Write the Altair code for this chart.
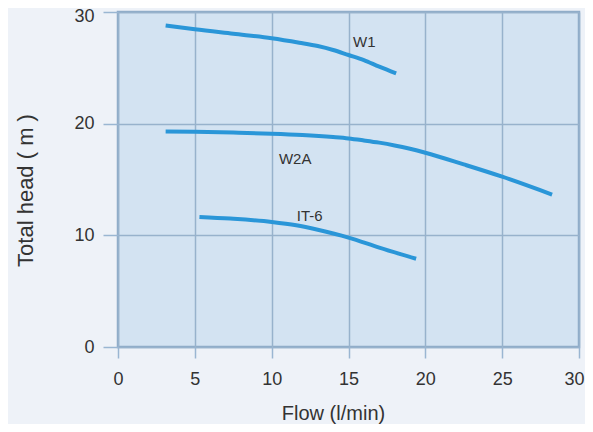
import altair as alt
import pandas as pd

# W1 curve
w1_flow = [3.1, 5, 7.5, 10, 11.8, 13, 14, 15, 16, 17, 18.1]
w1_head = [28.8, 28.45, 28.05, 27.65, 27.25, 26.95, 26.6, 26.15, 25.7, 25.1, 24.5]
# W2A curve
w2a_flow = [3.1, 5, 7.5, 10, 12, 14, 15, 16, 17, 18, 19, 20, 22.5, 25, 28.25]
w2a_head = [19.3, 19.27, 19.2, 19.1, 18.98, 18.8, 18.68, 18.5, 18.3, 18.05, 17.75, 17.4, 16.35, 15.25, 13.65]
# IT-6 curve
it6_flow = [5.3, 7.3, 10, 11.6, 13, 15, 17, 19.4]
it6_head = [11.65, 11.5, 11.2, 10.9, 10.5, 9.8, 8.9, 7.9]

# curve labels
label_text = ["W1", "W2A", "IT-6"]
label_flow = [15.3, 10.47, 11.63]
label_head = [26.86, 16.38, 11.28]

x_ticks = [0, 5, 10, 15, 20, 25, 30]
y_ticks = [0, 10, 20, 30]

rows = []
for name, xs, ys in [("W1", w1_flow, w1_head), ("W2A", w2a_flow, w2a_head), ("IT-6", it6_flow, it6_head)]:
    for i, (a, b) in enumerate(zip(xs, ys)):
        rows.append({"pump": name, "flow": a, "head": b, "order": i})
df = pd.DataFrame(rows)
labels = pd.DataFrame({"text": label_text, "flow": label_flow, "head": label_head})

FONT = "Liberation Sans, Arial, Helvetica, sans-serif"
TXT = "#333333"
TICK = "#9ab6d2"

xenc = alt.X(
    "flow:Q",
    scale=alt.Scale(domain=[0, 30], nice=False, zero=False),
    axis=alt.Axis(
        title="Flow (l/min)",
        values=x_ticks,
        tickSize=11,
        tickColor=TICK,
        tickWidth=1.5,
        labelPadding=12,
        labelFontSize=18,
        labelFlush=False,
        labelOffset={"condition": {"test": "datum.value == 30", "value": -5}, "value": 0},
        labelColor=TXT,
        labelFont=FONT,
        titleFont=FONT,
        titleFontSize=20,
        titleFontWeight="normal",
        titleColor=TXT,
        titleX=215,
        titleY=72,
        titleAlign="center",
        titleBaseline="alphabetic",
        domain=False,
        grid=True,
        gridColor="#97b2cc",
        gridWidth=1.5,
    ),
)
yenc = alt.Y(
    "head:Q",
    scale=alt.Scale(domain=[0, 30], nice=False),
    axis=alt.Axis(
        title="Total head ( m )",
        values=y_ticks,
        tickSize=15,
        tickColor=TICK,
        tickWidth=1.5,
        labelPadding=9,
        labelFontSize=18,
        labelFlush=False,
        labelOffset={"condition": {"test": "datum.value == 30", "value": 4}, "value": 0},
        labelColor=TXT,
        labelFont=FONT,
        titleFont=FONT,
        titleFontSize=22,
        titleFontWeight="normal",
        titleColor=TXT,
        titleAngle=270,
        titleX=-86,
        titleY=178,
        titleAlign="center",
        titleBaseline="alphabetic",
        domain=False,
        grid=True,
        gridColor="#97b2cc",
        gridWidth=1.5,
    ),
)

lines = alt.Chart(df).mark_line(
    strokeWidth=4, color="#2a96d8", interpolate="monotone", strokeCap="butt"
).encode(x=xenc, y=yenc, detail="pump:N", order="order:Q")

texts = alt.Chart(labels).mark_text(
    align="left", baseline="alphabetic", fontSize=15, color=TXT, font=FONT
).encode(x="flow:Q", y="head:Q", text="text:N")

chart = (
    alt.layer(lines, texts)
    .properties(
        width=461,
        height=335,
        autosize=alt.AutoSizeParams(type="none"),
        padding={"left": 110, "top": 4, "right": 6, "bottom": 77},
        background="#eef2f8",
    )
    .configure_view(fill="#d3e3f2", stroke="#8eabc8", strokeWidth=2.5)
)

chart.save("out.html", embed_options={"renderer": "svg", "actions": False})
